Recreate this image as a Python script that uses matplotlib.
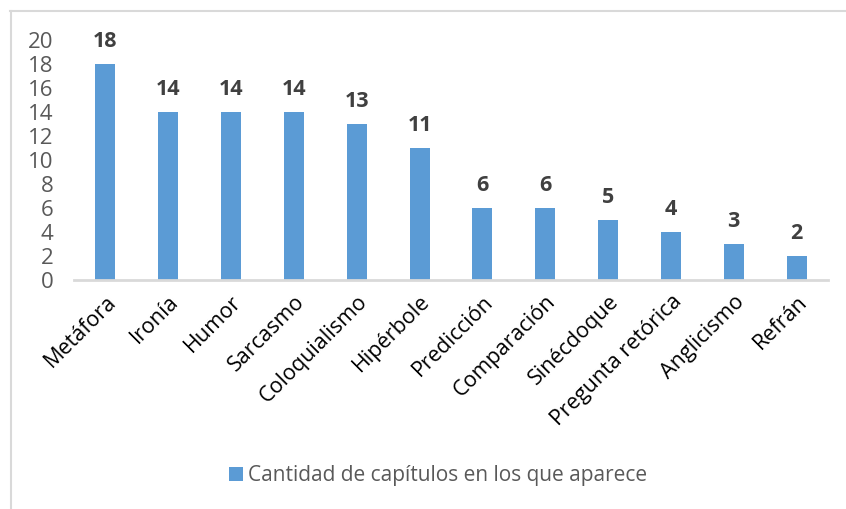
import matplotlib.pyplot as plt
from matplotlib.lines import Line2D
from matplotlib.patches import Patch

# Figures of speech and the number of chapters they appear in
categorias = [
    "Metáfora", "Ironía", "Humor", "Sarcasmo", "Coloquialismo", "Hipérbole",
    "Predicción", "Comparación", "Sinécdoque", "Pregunta retórica",
    "Anglicismo", "Refrán"
]
capitulos = [18, 14, 14, 14, 13, 11, 6, 6, 5, 4, 3, 2]
yticks = [0, 2, 4, 6, 8, 10, 12, 14, 16, 18, 20]
serie = "Cantidad de capítulos en los que aparece"

plt.rcParams['font.family'] = ['Open Sans', 'DejaVu Sans']
bar_color = '#5B9BD5'

W, H = 846, 509
fig = plt.figure(figsize=(W / 100, H / 100), dpi=100)
ax = fig.add_axes([74 / W, (H - 280) / H, (828 - 74) / W, 240 / H])

x = range(len(categorias))
ax.bar(x, capitulos, width=0.32, color=bar_color, zorder=2)

for i, v in zip(x, capitulos):
    ax.annotate(str(v), (i, v), xytext=(0, 12.5), textcoords='offset points',
                ha='center', va='baseline', fontsize=15.5, fontweight='bold',
                color='#404040')

ax.set_xlim(-0.5, len(categorias) - 0.5)
ax.set_ylim(0, 20)
ax.set_yticks(yticks)
ax.set_yticklabels([str(t) for t in yticks], fontsize=16, color='#595959')
ax.set_xticks(list(x))
ax.set_xticklabels(categorias, rotation=45, ha='right', va='top',
                   rotation_mode='anchor', fontsize=15.5, color='#000000')
ax.tick_params(axis='both', length=0)
ax.tick_params(axis='x', pad=8)
ax.tick_params(axis='y', pad=15)

for s in ['top', 'right', 'left']:
    ax.spines[s].set_visible(False)
ax.spines['bottom'].set_color('#D9D9D9')
ax.spines['bottom'].set_linewidth(2)

handle = Patch(facecolor=bar_color, edgecolor='none')
fig.legend([handle], [serie], loc='center', bbox_to_anchor=(438 / W, 1 - 476 / H),
           frameon=False, fontsize=15, handlelength=0.65, handleheight=0.65,
           handletextpad=0.25, labelcolor='#595959')

# outer chart frame (cropped at right and bottom)
fig.add_artist(Line2D([10 / W, 1], [1 - 11 / H, 1 - 11 / H], color='#D9D9D9', lw=1.5))
fig.add_artist(Line2D([10.5 / W, 10.5 / W], [0, 1 - 11 / H], color='#D9D9D9', lw=1.5))

fig.savefig('out.png', dpi=100)
